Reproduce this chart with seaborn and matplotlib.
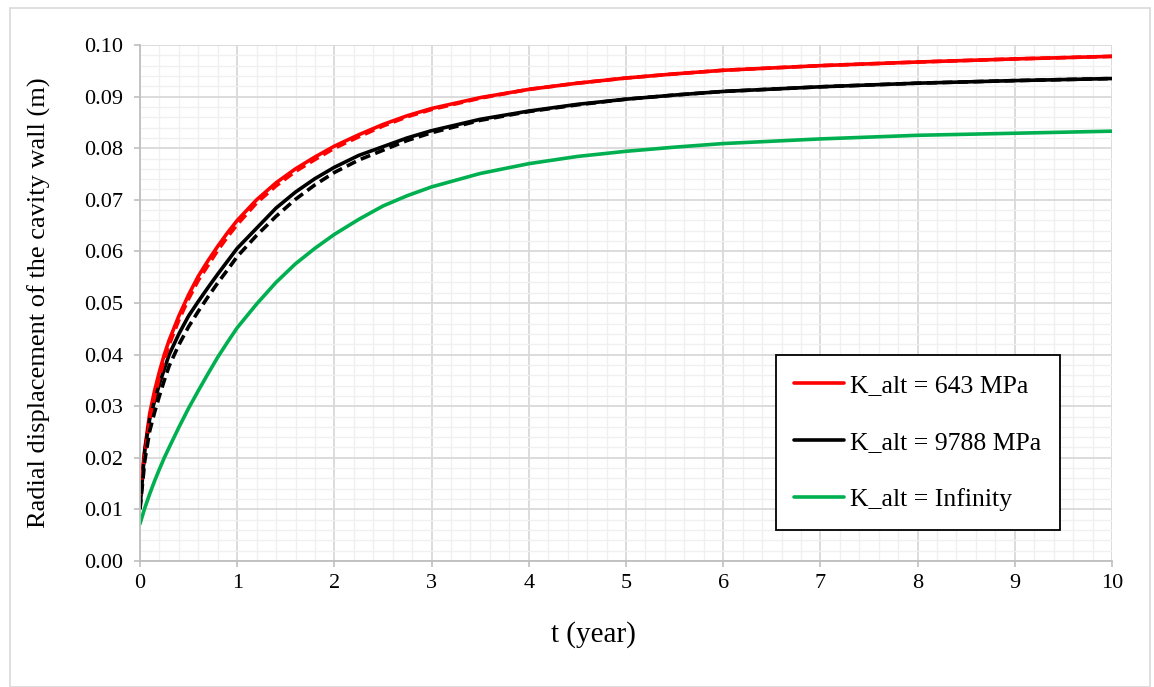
import numpy as np
import pandas as pd
import seaborn as sns
import matplotlib.pyplot as plt
from matplotlib.patches import Rectangle
from matplotlib.ticker import MultipleLocator, FormatStrFormatter

# time (years)
t = [0, 0.05, 0.1, 0.15, 0.2, 0.25, 0.3, 0.4, 0.5, 0.6, 0.7, 0.8, 0.9, 1.0,
     1.2, 1.4, 1.6, 1.8, 2.0, 2.25, 2.5, 2.75, 3, 3.5, 4, 4.5, 5, 5.5, 6,
     7, 8, 9, 10]

# radial displacement of the cavity wall (m)
u_643 = [0.0131, 0.0218, 0.0286, 0.0330, 0.0367, 0.0400, 0.0428, 0.0475,
         0.0516, 0.0552, 0.0582, 0.0610, 0.0636, 0.0660, 0.0700, 0.0733,
         0.0760, 0.0783, 0.0804, 0.0826, 0.0846, 0.0863, 0.0877, 0.0898,
         0.0914, 0.0926, 0.0936, 0.0944, 0.0951, 0.0960, 0.0967, 0.0973,
         0.0978]
u_643_dash = [0.0128, 0.0205, 0.0274, 0.0319, 0.0357, 0.0390, 0.0419, 0.0467,
              0.0508, 0.0544, 0.0573, 0.0602, 0.0628, 0.0652, 0.0694, 0.0727,
              0.0755, 0.0778, 0.0800, 0.0822, 0.0843, 0.0861, 0.0875, 0.0897,
              0.0914, 0.0926, 0.0936, 0.0944, 0.0951, 0.0960, 0.0967, 0.0973,
              0.0978]
u_9788 = [0.0103, 0.0215, 0.0275, 0.0310, 0.0343, 0.0372, 0.0400, 0.0440,
          0.0475, 0.0503, 0.0530, 0.0556, 0.0581, 0.0606, 0.0645, 0.0684,
          0.0715, 0.0741, 0.0763, 0.0786, 0.0803, 0.0820, 0.0834, 0.0856,
          0.0872, 0.0885, 0.0895, 0.0903, 0.0910, 0.0919, 0.0926, 0.0931,
          0.0935]
u_9788_dash = [0.0100, 0.0195, 0.0252, 0.0288, 0.0320, 0.0350, 0.0378, 0.0419,
               0.0454, 0.0484, 0.0512, 0.0539, 0.0564, 0.0590, 0.0631, 0.0668,
               0.0701, 0.0729, 0.0753, 0.0777, 0.0796, 0.0815, 0.0830, 0.0854,
               0.0871, 0.0884, 0.0895, 0.0903, 0.0910, 0.0919, 0.0926, 0.0931,
               0.0935]
u_inf = [0.0072, 0.0103, 0.0130, 0.0155, 0.0178, 0.0200, 0.0220, 0.0259,
         0.0296, 0.0330, 0.0363, 0.0395, 0.0424, 0.0452, 0.0498, 0.0540,
         0.0576, 0.0606, 0.0633, 0.0662, 0.0688, 0.0708, 0.0725, 0.0751,
         0.0770, 0.0784, 0.0794, 0.0802, 0.0809, 0.0818, 0.0825, 0.0829,
         0.0833]

labels = ['K_alt = 643 MPa', 'K_alt = 9788 MPa', 'K_alt = Infinity']

sns.set_style('white')
plt.rcParams['font.family'] = ['Liberation Serif', 'DejaVu Serif']
plt.rcParams['text.color'] = 'black'
plt.rcParams['axes.labelcolor'] = 'black'

fig = plt.figure(figsize=(11.54, 6.87), dpi=100)
ax = fig.add_axes([0.1213, 0.1834, 0.8423, 0.7511])

lw = 2.6
dash = (0, (2.8, 1.5))
sns.lineplot(x=t, y=u_643, color='#ff0000', lw=lw, label=labels[0], ax=ax)
sns.lineplot(x=t, y=u_9788, color='#000000', lw=lw, label=labels[1], ax=ax)
sns.lineplot(x=t, y=u_inf, color='#00b050', lw=lw, label=labels[2], ax=ax)
sns.lineplot(x=t, y=u_643_dash, color='#ff0000', lw=lw, linestyle=dash,
             legend=False, ax=ax)
sns.lineplot(x=t, y=u_9788_dash, color='#000000', lw=lw, linestyle=dash,
             legend=False, ax=ax)

ax.set_xlim(0, 10)
ax.set_ylim(0, 0.10)
ax.xaxis.set_major_locator(MultipleLocator(1))
ax.xaxis.set_minor_locator(MultipleLocator(0.2))
ax.yaxis.set_major_locator(MultipleLocator(0.01))
ax.yaxis.set_minor_locator(MultipleLocator(0.002))
ax.yaxis.set_major_formatter(FormatStrFormatter('%.2f'))

ax.grid(which='major', color='#d9d9d9', lw=1.3)
ax.grid(which='minor', color='#f0f0f0', lw=1.0)
ax.set_axisbelow(True)

for s in ['top', 'right']:
    ax.spines[s].set_visible(False)
for s in ['left', 'bottom']:
    ax.spines[s].set_color('#bfbfbf')
    ax.spines[s].set_linewidth(1.3)

ax.tick_params(which='major', direction='out', length=4, width=1.2,
               color='#bfbfbf', labelcolor='black', labelsize=16,
               left=True, bottom=True)
ax.tick_params(axis='y', pad=8)
ax.tick_params(axis='x', pad=5)
ax.tick_params(which='minor', length=0)

ax.set_xlabel('t (year)', fontsize=21, color='black')
ax.set_ylabel('Radial displacement of the cavity wall (m)', fontsize=19, color='black')
ax.xaxis.set_label_coords(0.467, -0.117)
ax.yaxis.set_label_coords(-0.0916, 0.5)

leg = ax.legend(loc='upper left', bbox_to_anchor=(0.654, 0.399), borderaxespad=0,
                fontsize=18.5, frameon=True, fancybox=False, edgecolor='black',
                framealpha=1, handlelength=1.95, handletextpad=0.22,
                labelspacing=1.34, borderpad=0.72)
leg.get_frame().set_linewidth(1.3)
for txt in leg.get_texts():
    txt.set_color('black')

# light border around the whole chart
fig.patches.append(Rectangle((10 / 1154, 0.0), 1140 / 1154, 1 - 8 / 687,
                             transform=fig.transFigure, fill=False,
                             edgecolor='#d9d9d9', lw=1.2))

fig.savefig('out.png', dpi=100)
